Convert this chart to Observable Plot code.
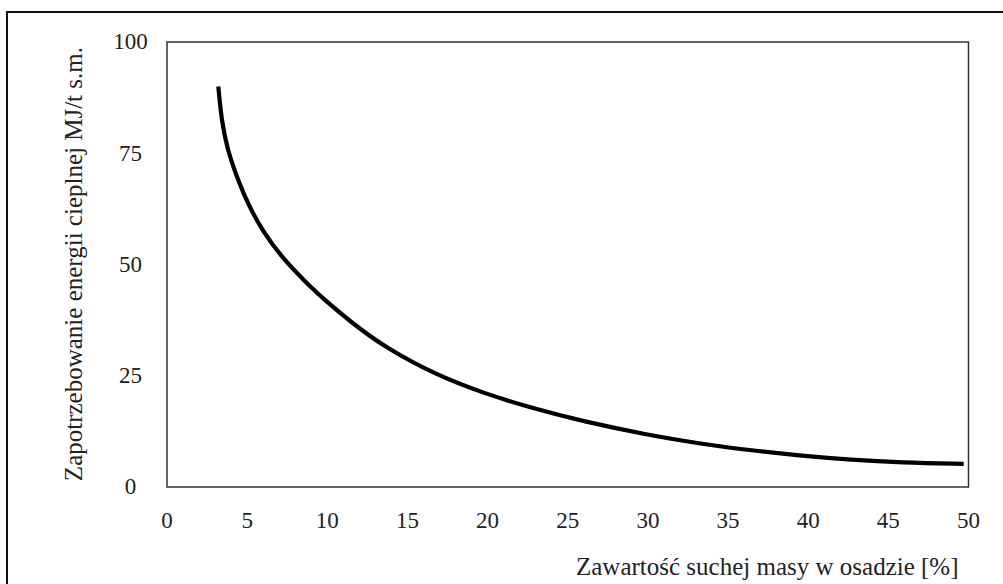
<!DOCTYPE html>
<html>
<head>
<meta charset="utf-8">
<script src="https://cdn.jsdelivr.net/npm/d3@7"></script>
<script src="https://cdn.jsdelivr.net/npm/@observablehq/plot@0.6"></script>
<style>
  html, body { margin: 0; padding: 0; background: #fff; }
  #wrap { position: relative; width: 1003px; height: 584px; overflow: hidden; }
  #border { position: absolute; left: 6px; top: 11px; width: 1100px; height: 700px;
            border-left: 2px solid #111; border-top: 2px solid #111; pointer-events: none; }
</style>
</head>
<body>
<div id="wrap"><div id="border"></div></div>
<script>
// Dry-matter content in sludge [%]
const dryMass = [3.2, 3.4, 3.75, 4.4, 5.1, 6.0, 7.3, 8.8, 10, 11.5, 13.5, 16.7, 19.8, 22.9, 26, 30, 33.3, 36.5, 39.6, 42.7, 45.8, 49.7];
// Heat energy demand MJ/t d.m.
const energy = [90, 82.5, 76, 69.2, 63.2, 57.3, 51, 45.5, 41.5, 37, 31.6, 25.3, 21, 17.6, 14.7, 11.7, 9.7, 8.2, 7.0, 6.1, 5.5, 5.2];
const xTicks = [0, 5, 10, 15, 20, 25, 30, 35, 40, 45, 50];
const yTicks = [0, 25, 50, 75, 100];
const xTitle = "Zawartość suchej masy w osadzie [%]";
const yTitle = "Zapotrzebowanie energii cieplnej MJ/t s.m.";

const data = dryMass.map((x, i) => ({x, y: energy[i]}));

const chart = Plot.plot({
  width: 1003,
  height: 584,
  marginLeft: 166.5,
  marginRight: 35,
  marginTop: 41.5,
  marginBottom: 97.5,
  style: {fontFamily: "'Liberation Serif', 'DejaVu Serif', serif", fontSize: "23px", background: "transparent", color: "#222"},
  x: {domain: [0, 50]},
  y: {domain: [0, 100]},
  marks: [
    Plot.frame({stroke: "#333", strokeWidth: 1.5}),
    Plot.axisX({ticks: xTicks, tickSize: 0, tickPadding: 25, label: null, fill: "#222", fontSize: 23}),
    Plot.axisY({ticks: yTicks, tickSize: 0, tickPadding: 36.5, textAnchor: "middle", label: null, fill: "#222", fontSize: 23}),
    Plot.line(data, {x: "x", y: "y", stroke: "#000", strokeWidth: 4.2, strokeLinecap: "butt", curve: "basis"}),
    Plot.text([xTitle], {frameAnchor: "bottom-right", textAnchor: "end", lineAnchor: "middle", dx: -10, dy: 80, fill: "#222", fontSize: 25}),
    Plot.text([yTitle], {frameAnchor: "top-left", rotate: -90, textAnchor: "end", lineAnchor: "middle", dx: -93.5, dy: 5, fill: "#222", fontSize: 25})
  ]
});
document.getElementById("wrap").insertBefore(chart, document.getElementById("border"));
</script>
</body>
</html>
